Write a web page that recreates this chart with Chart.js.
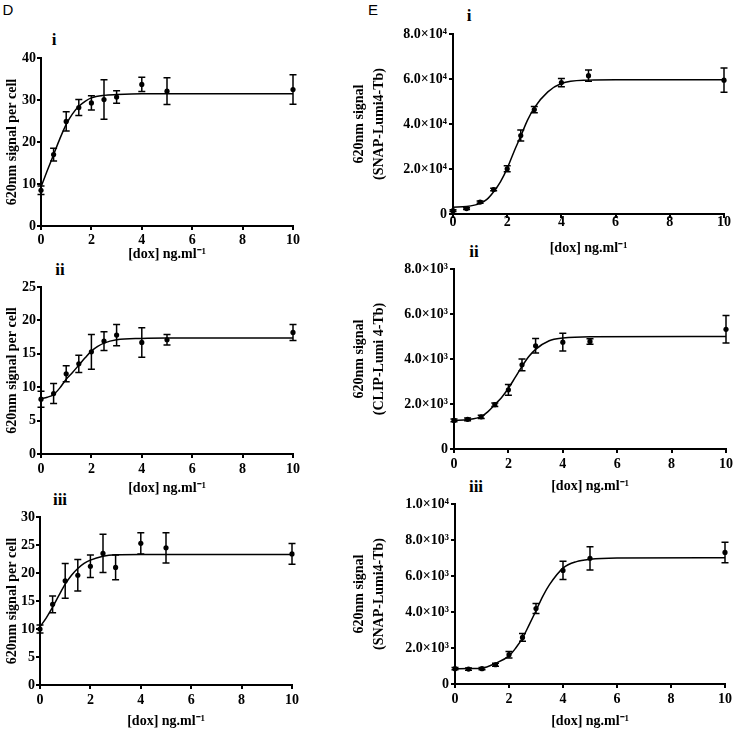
<!DOCTYPE html>
<html>
<head>
<meta charset="utf-8">
<script src="https://cdn.jsdelivr.net/npm/chart.js@4.4.1/dist/chart.umd.min.js"></script>
<style>
  html, body { margin: 0; padding: 0; background: #fff; overflow: hidden; }
  body { width: 733px; height: 731px; position: relative; }
  canvas { position: absolute; }
  .lbl { position: absolute; transform: translate(-50%, -50%); white-space: nowrap; color: #000; }
  .panel { font-family: 'Liberation Sans', Arial, sans-serif; font-size: 15px; }
  .num { font-family: 'Liberation Serif', 'Times New Roman', serif; font-weight: bold; font-size: 17px; }
</style>
</head>
<body>
<div class="lbl panel" style="left:8px;top:9px">D</div>
<div class="lbl panel" style="left:373px;top:9px">E</div>
<div class="lbl num" style="left:54px;top:40px">i</div>
<div class="lbl num" style="left:60px;top:270px">ii</div>
<div class="lbl num" style="left:60px;top:500px">iii</div>
<div class="lbl num" style="left:469px;top:16px">i</div>
<div class="lbl num" style="left:474px;top:252px">ii</div>
<div class="lbl num" style="left:476px;top:487px">iii</div>

<script>
// doses used in every panel
const doses = [0, 0.5, 1, 1.5, 2, 2.5, 3, 4, 5, 10];
const xLabels = ['0', '2', '4', '6', '8', '10'];

// D i
const dI_mean = [8.5, 17.0, 24.9, 28.2, 29.3, 30.1, 30.7, 33.7, 32.1, 32.5];
const dI_err = [1.0, 1.5, 2.3, 1.9, 1.7, 4.7, 1.5, 1.7, 3.2, 3.5];
const dI_fitX = [0, 0.25, 0.5, 0.75, 1, 1.25, 1.5, 1.75, 2, 2.5, 3, 4, 5, 10];
const dI_fitY = [9.3, 13.2, 17.0, 20.8, 24.2, 26.7, 28.5, 29.7, 30.5, 31.1, 31.3, 31.5, 31.5, 31.5];
const dI_ticks = ['0', '10', '20', '30', '40'];

// D ii
const dII_mean = [8.2, 9.05, 12.0, 13.5, 15.3, 16.9, 17.8, 16.7, 17.1, 18.2];
const dII_err = [1.2, 1.5, 1.2, 1.3, 2.6, 1.4, 1.6, 2.2, 0.8, 1.2];
const dII_fitX = [0, 0.25, 0.5, 0.75, 1, 1.25, 1.5, 1.75, 2, 2.25, 2.5, 3, 4, 5, 10];
const dII_fitY = [8.3, 8.5, 8.9, 9.9, 11.2, 12.2, 13.3, 14.4, 15.4, 16.1, 16.6, 17.1, 17.3, 17.35, 17.35];
const dII_ticks = ['0', '5', '10', '15', '20', '25'];

// D iii
const dIII_mean = [10.0, 14.4, 18.6, 19.6, 21.2, 23.5, 21.0, 25.3, 24.5, 23.4];
const dIII_err = [0.7, 1.5, 3.1, 2.8, 2.0, 3.4, 2.2, 1.9, 2.7, 1.85];
const dIII_fitX = [0, 0.25, 0.5, 0.75, 1, 1.25, 1.5, 1.75, 2, 2.5, 3, 4, 5, 10];
const dIII_fitY = [10.4, 12.0, 13.9, 16.0, 18.0, 19.6, 20.8, 21.7, 22.3, 23.0, 23.25, 23.3, 23.3, 23.3];
const dIII_ticks = ['0', '5', '10', '15', '20', '25', '30'];

// E i
const eI_mean = [1500, 2400, 5300, 10900, 20100, 34900, 46400, 58400, 61500, 59500];
const eI_err = [400, 400, 500, 600, 1300, 2400, 1400, 1800, 2500, 5400];
const eI_fitX = [0, 0.5, 1, 1.25, 1.5, 1.75, 2, 2.25, 2.5, 2.75, 3, 3.5, 4, 5, 6, 10];
const eI_fitY = [3000, 3300, 4700, 6500, 9900, 14300, 20300, 27700, 34600, 41700, 47200, 54300, 58000, 59500, 59700, 59700];
const eI_ticks = ['0', '2.0×10⁴', '4.0×10⁴', '6.0×10⁴', '8.0×10⁴'];

// E ii
const eII_mean = [1270, 1320, 1430, 1970, 2630, 3740, 4590, 4750, 4780, 5320];
const eII_err = [60, 60, 70, 80, 240, 260, 320, 390, 120, 610];
const eII_fitX = [0, 0.5, 1, 1.25, 1.5, 1.75, 2, 2.25, 2.5, 2.75, 3, 3.5, 4, 5, 10];
const eII_fitY = [1270, 1310, 1440, 1660, 1970, 2290, 2700, 3180, 3670, 4110, 4430, 4810, 4930, 4990, 5000];
const eII_ticks = ['0', '2.0×10³', '4.0×10³', '6.0×10³', '8.0×10³'];

// E iii
const eIII_mean = [850, 830, 850, 1070, 1630, 2590, 4190, 6310, 6980, 7310];
const eIII_err = [60, 60, 60, 80, 180, 220, 280, 510, 640, 570];
const eIII_fitX = [0, 0.5, 1, 1.5, 2, 2.25, 2.5, 2.75, 3, 3.25, 3.5, 4, 4.5, 5, 6, 10];
const eIII_fitY = [850, 855, 880, 1150, 1560, 2000, 2550, 3300, 4070, 4870, 5520, 6440, 6800, 6930, 7000, 7020];
const eIII_ticks = ['0', '2.0×10³', '4.0×10³', '6.0×10³', '8.0×10³', '1.0×10⁴'];

const serif = "'Liberation Serif', 'Times New Roman', serif";
const xTitle = '[dox] ng.ml⁻¹';

// vertical SEM bars with caps
const errorBars = {
    id: 'errorBars',
    afterDatasetsDraw(chart) {
        const ctx = chart.ctx;
        const xs = chart.scales.x, ys = chart.scales.y;
        chart.data.datasets.forEach((ds) => {
            if (!ds.errors) return;
            ctx.save();
            ctx.strokeStyle = '#000';
            ctx.lineWidth = 1.5;
            ds.data.forEach((p, i) => {
                const x = xs.getPixelForValue(p.x);
                const top = ys.getPixelForValue(p.y + ds.errors[i]);
                const bot = ys.getPixelForValue(p.y - ds.errors[i]);
                ctx.beginPath();
                ctx.moveTo(x, top); ctx.lineTo(x, bot);
                ctx.moveTo(x - 3.5, top); ctx.lineTo(x + 3.5, top);
                ctx.moveTo(x - 3.5, bot); ctx.lineTo(x + 3.5, bot);
                ctx.stroke();
            });
            ctx.restore();
        });
    }
};

function makeChart(box, s) {
    const c = document.createElement('canvas');
    c.width = box.w;
    c.height = box.h;
    c.style.left = box.x + 'px';
    c.style.top = box.y + 'px';
    document.body.appendChild(c);

    new Chart(c, {
        type: 'scatter',
        data: {
            datasets: [
                {
                    data: s.mean.map((v, i) => ({ x: doses[i], y: v })),
                    errors: s.err,
                    pointRadius: 2.6,
                    backgroundColor: '#000',
                    borderColor: '#000',
                    borderWidth: 0,
                    clip: false
                },
                {
                    type: 'line',
                    data: s.fitX.map((x, i) => ({ x: x, y: s.fitY[i] })),
                    borderColor: '#000',
                    borderWidth: 1.5,
                    pointRadius: 0,
                    cubicInterpolationMode: 'monotone',
                    fill: false,
                    clip: false
                }
            ]
        },
        options: {
            responsive: false,
            animation: false,
            devicePixelRatio: 1,
            layout: { padding: { left: 0, top: box.padTop, right: box.padRight, bottom: 0 } },
            plugins: { legend: { display: false }, tooltip: { enabled: false } },
            scales: {
                x: {
                    type: 'linear', min: 0, max: 10,
                    border: { color: '#000', width: 2 },
                    grid: { drawOnChartArea: false, tickLength: 4, color: '#000', lineWidth: 2 },
                    ticks: {
                        stepSize: 2, color: '#000', padding: box.xPad,
                        font: { family: serif, size: 14, weight: 'bold' },
                        callback: (v, i) => xLabels[i]
                    },
                    title: {
                        display: true, text: xTitle, color: '#000',
                        font: { family: serif, size: 14, weight: 'bold' },
                        padding: { top: 4, bottom: 4 }
                    },
                    afterFit: (sc) => { sc.height = box.xh; }
                },
                y: {
                    type: 'linear', min: 0, max: s.yMax,
                    border: { color: '#000', width: 2 },
                    grid: { drawOnChartArea: false, tickLength: 4, color: '#000', lineWidth: 2 },
                    ticks: {
                        stepSize: s.yStep, color: '#000', padding: box.yPad,
                        font: { family: serif, size: 14, weight: 'bold' },
                        callback: (v, i) => s.ticks[i]
                    },
                    title: {
                        display: true, text: s.yTitle, color: '#000',
                        font: { family: serif, size: 14, weight: 'bold', lineHeight: s.titleLH },
                        padding: { top: 4, bottom: 4 }
                    },
                    afterFit: (sc) => { sc.width = box.yw; }
                }
            }
        },
        plugins: [errorBars]
    });
}

makeChart({ x: 0, y: 46, w: 310, h: 221, padTop: 12, padRight: 17, yw: 41, xh: 41, xPad: 2, yPad: 1 },
    { mean: dI_mean, err: dI_err, fitX: dI_fitX, fitY: dI_fitY, ticks: dI_ticks, yMax: 40, yStep: 10,
      yTitle: '620nm signal per cell', titleLH: 1.2 });
makeChart({ x: 0, y: 275, w: 310, h: 226, padTop: 12, padRight: 17, yw: 41, xh: 47, xPad: 3, yPad: 1 },
    { mean: dII_mean, err: dII_err, fitX: dII_fitX, fitY: dII_fitY, ticks: dII_ticks, yMax: 25, yStep: 5,
      yTitle: '620nm signal per cell', titleLH: 1.2 });
makeChart({ x: 0, y: 505, w: 309, h: 229, padTop: 12, padRight: 17, yw: 40, xh: 49, xPad: 3, yPad: 1 },
    { mean: dIII_mean, err: dIII_err, fitX: dIII_fitX, fitY: dIII_fitY, ticks: dIII_ticks, yMax: 30, yStep: 5,
      yTitle: '620nm signal per cell', titleLH: 1.2 });

makeChart({ x: 345, y: 22, w: 396, h: 239, padTop: 12, padRight: 17, yw: 108, xh: 47, xPad: -4, yPad: 2 },
    { mean: eI_mean, err: eI_err, fitX: eI_fitX, fitY: eI_fitY, ticks: eI_ticks, yMax: 80000, yStep: 20000,
      yTitle: ['620nm signal', '(SNAP-Lumi4-Tb)'], titleLH: 1.43 });
makeChart({ x: 345, y: 257, w: 398, h: 242, padTop: 12, padRight: 17, yw: 109, xh: 50, xPad: 3, yPad: 2 },
    { mean: eII_mean, err: eII_err, fitX: eII_fitX, fitY: eII_fitY, ticks: eII_ticks, yMax: 8000, yStep: 2000,
      yTitle: ['620nm signal', '(CLIP-Lumi 4-Tb)'], titleLH: 1.43 });
makeChart({ x: 345, y: 492, w: 397, h: 242, padTop: 12, padRight: 17, yw: 110, xh: 50, xPad: 3, yPad: 2 },
    { mean: eIII_mean, err: eIII_err, fitX: eIII_fitX, fitY: eIII_fitY, ticks: eIII_ticks, yMax: 10000, yStep: 2000,
      yTitle: ['620nm signal', '(SNAP-Lumi4-Tb)'], titleLH: 1.43 });
</script>
</body>
</html>
